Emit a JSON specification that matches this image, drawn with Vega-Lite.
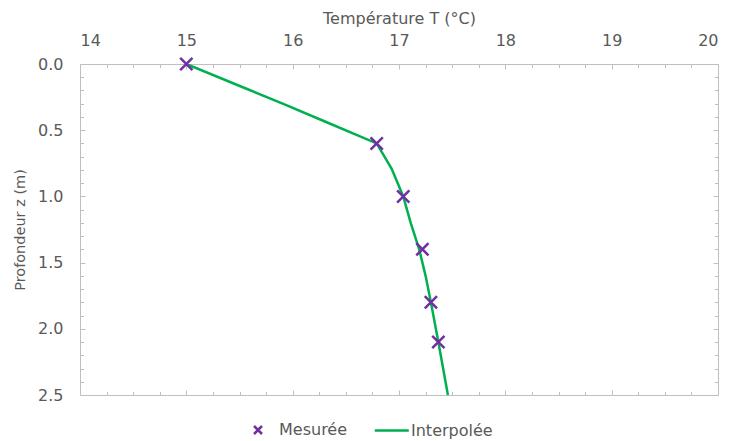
{
  "$schema": "https://vega.github.io/schema/vega-lite/v6.json",
  "width": 638,
  "height": 331,
  "autosize": {"type": "none"},
  "padding": {"left": 80, "top": 64, "right": 11, "bottom": 46},
  "background": "white",
  "config": {
    "view": {"stroke": "#BFBFBF", "strokeWidth": 1},
    "font": "DejaVu Sans",
    "axis": {
      "grid": false,
      "labelFont": "DejaVu Sans",
      "labelFontSize": 16,
      "labelColor": "#595959",
      "titleFont": "DejaVu Sans",
      "titleFontSize": 16,
      "titleFontWeight": "normal",
      "titleColor": "#595959",
      "tickColor": "#BFBFBF",
      "domain": false
    },
    "legend": {
      "labelFont": "DejaVu Sans",
      "labelFontSize": 16,
      "labelColor": "#595959"
    }
  },
  "datasets": {
    "pts": [
      {"T": 15.0, "z": 0.0, "serie": "Mesurée"},
      {"T": 16.79, "z": 0.6, "serie": "Mesurée"},
      {"T": 17.04, "z": 1.0, "serie": "Mesurée"},
      {"T": 17.22, "z": 1.4, "serie": "Mesurée"},
      {"T": 17.3, "z": 1.8, "serie": "Mesurée"},
      {"T": 17.37, "z": 2.1, "serie": "Mesurée"}
    ],
    "line": [
      {"T": 15.0, "z": 0.0},
      {"T": 15.56, "z": 0.185},
      {"T": 15.94, "z": 0.31},
      {"T": 16.32, "z": 0.44},
      {"T": 16.6, "z": 0.535},
      {"T": 16.79, "z": 0.6},
      {"T": 16.93, "z": 0.79},
      {"T": 17.04, "z": 1.0},
      {"T": 17.11, "z": 1.2},
      {"T": 17.19, "z": 1.4},
      {"T": 17.25, "z": 1.6},
      {"T": 17.3, "z": 1.8},
      {"T": 17.37, "z": 2.1},
      {"T": 17.46, "z": 2.5}
    ],
    "ticks": [
      {"T": 14, "z": 0}
    ]
  },
  "resolve": {"axis": {"x": "independent", "y": "independent"}},
  "layer": [
    {
      "data": {"name": "line"},
      "mark": {"type": "line", "color": "#00B050", "strokeWidth": 2.5, "clip": true},
      "encoding": {
        "x": {"field": "T", "type": "quantitative",
          "scale": {"domain": [14, 20], "nice": false, "zero": false},
          "axis": {"orient": "top", "values": [14, 15, 16, 17, 18, 19, 20], "format": "d", "ticks": false, "labelPadding": 16, "title": "Température T (°C)", "titlePadding": 6}},
        "y": {"field": "z", "type": "quantitative",
          "scale": {"domain": [0, 2.5], "reverse": true, "nice": false, "zero": false},
          "axis": {"orient": "left", "values": [0, 0.5, 1, 1.5, 2, 2.5], "format": ".1f", "ticks": false, "labelPadding": 17, "title": "Profondeur z (m)", "titleFontSize": 14.5, "titlePadding": 10}},
        "order": {"field": "z", "type": "quantitative"}
      }
    },
    {
      "data": {"name": "pts"},
      "mark": {"type": "point", "filled": false, "strokeWidth": 2.5, "size": 150, "opacity": 1},
      "encoding": {
        "x": {"field": "T", "type": "quantitative",
          "axis": {"orient": "top", "values": [14, 15, 16, 17, 18, 19, 20], "labels": false, "ticks": true, "tickSize": -5, "title": null}},
        "y": {"field": "z", "type": "quantitative",
          "axis": {"orient": "left", "values": [0, 0.5, 1, 1.5, 2, 2.5], "labels": false, "ticks": true, "tickSize": -5, "title": null}},
        "color": {"field": "serie", "type": "nominal",
          "scale": {"domain": ["Mesurée", "Interpolée"], "range": ["#7030A0", "#00B050"]},
          "legend": {"orient": "none", "legendX": 170, "legendY": 358, "direction": "horizontal", "title": null, "columns": 2, "columnPadding": 21, "symbolSize": 64, "symbolStrokeWidth": 2.5, "labelOffset": 13}},
        "shape": {"field": "serie", "type": "nominal",
          "scale": {"domain": ["Mesurée", "Interpolée"], "range": ["M-1,-1L1,1M1,-1L-1,1", "M-3.8,0L4.7,0"]},
          "legend": null}
      }
    },
    {
      "data": {"name": "ticks"},
      "mark": {"type": "point", "opacity": 0},
      "encoding": {
        "x": {"field": "T", "type": "quantitative",
          "axis": {"orient": "top", "values": [14.25, 14.5, 14.75, 15.25, 15.5, 15.75, 16.25, 16.5, 16.75, 17.25, 17.5, 17.75, 18.25, 18.5, 18.75, 19.25, 19.5, 19.75], "labels": false, "ticks": true, "tickSize": -3.5, "title": null}},
        "y": {"field": "z", "type": "quantitative",
          "axis": {"orient": "left", "values": [0.1, 0.2, 0.3, 0.4, 0.6, 0.7, 0.8, 0.9, 1.1, 1.2, 1.3, 1.4, 1.6, 1.7, 1.8, 1.9, 2.1, 2.2, 2.3, 2.4], "labels": false, "ticks": true, "tickSize": -3.5, "title": null}}
      }
    },
    {
      "data": {"name": "ticks"},
      "mark": {"type": "point", "opacity": 0},
      "encoding": {
        "x": {"field": "T", "type": "quantitative",
          "axis": {"orient": "bottom", "values": [14.25, 14.5, 14.75, 15.25, 15.5, 15.75, 16.25, 16.5, 16.75, 17.25, 17.5, 17.75, 18.25, 18.5, 18.75, 19.25, 19.5, 19.75], "labels": false, "ticks": true, "tickSize": -3.5, "title": null}},
        "y": {"field": "z", "type": "quantitative",
          "axis": {"orient": "right", "values": [0.1, 0.2, 0.3, 0.4, 0.6, 0.7, 0.8, 0.9, 1.1, 1.2, 1.3, 1.4, 1.6, 1.7, 1.8, 1.9, 2.1, 2.2, 2.3, 2.4], "labels": false, "ticks": true, "tickSize": -3.5, "title": null}}
      }
    },
    {
      "data": {"name": "ticks"},
      "mark": {"type": "point", "opacity": 0},
      "encoding": {
        "x": {"field": "T", "type": "quantitative",
          "axis": {"orient": "bottom", "values": [15, 16, 17, 18, 19], "labels": false, "ticks": true, "tickSize": -5, "title": null}},
        "y": {"field": "z", "type": "quantitative",
          "axis": {"orient": "right", "values": [0.5, 1, 1.5, 2], "labels": false, "ticks": true, "tickSize": -5, "title": null}}
      }
    }
  ]
}
